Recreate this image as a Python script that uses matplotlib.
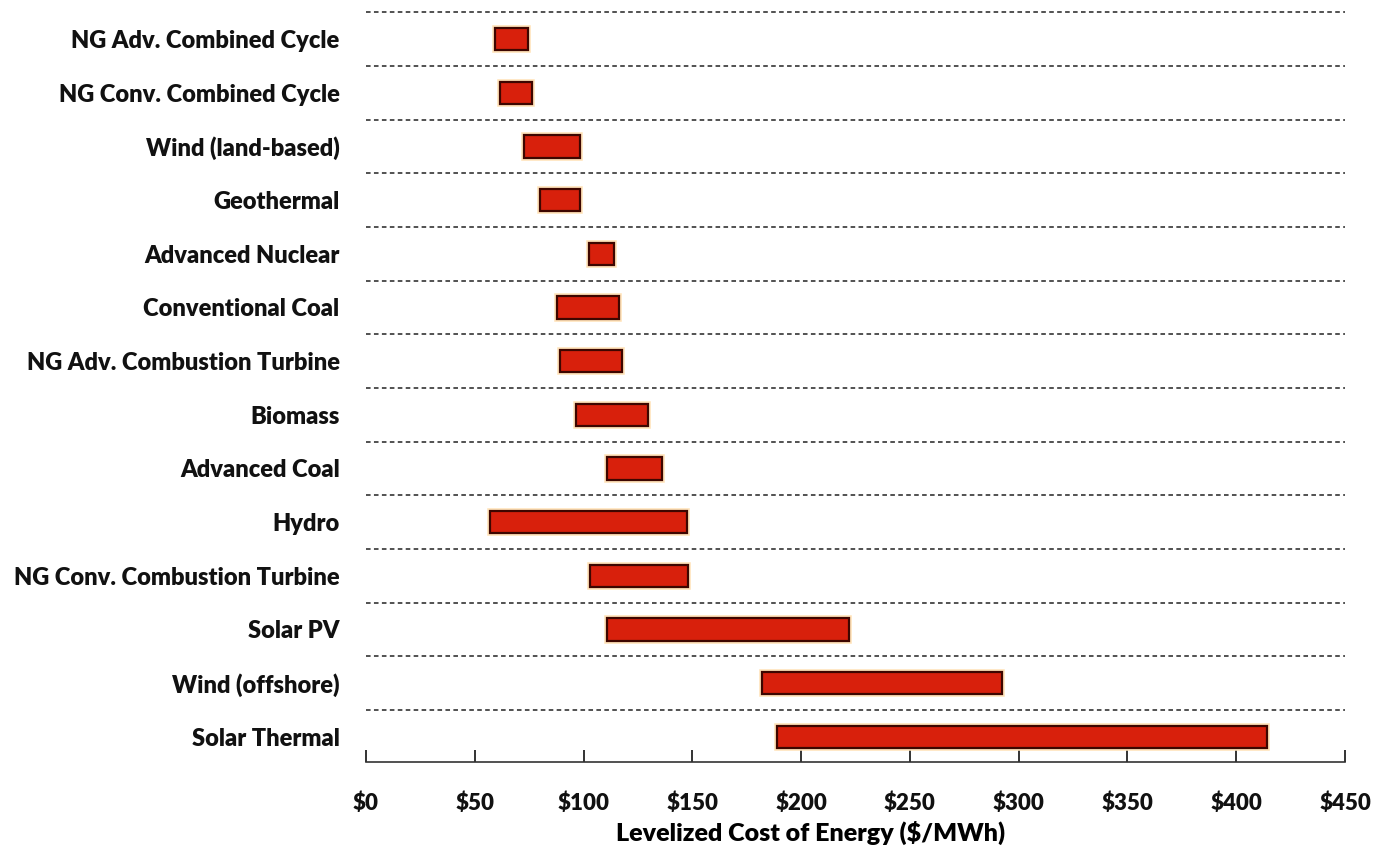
"""Levelized cost of energy ranges by technology (floating bar chart)."""
import matplotlib as mpl; mpl.use("Agg")
import matplotlib.pyplot as plt
from matplotlib.ticker import FuncFormatter

plt.rcParams.update({"font.family": ["Lato", "DejaVu Sans"], "font.weight": "heavy"})

techs = ["NG Adv. Combined Cycle", "NG Conv. Combined Cycle", "Wind (land-based)", "Geothermal",
         "Advanced Nuclear", "Conventional Coal", "NG Adv. Combustion Turbine", "Biomass",
         "Advanced Coal", "Hydro", "NG Conv. Combustion Turbine", "Solar PV", "Wind (offshore)",
         "Solar Thermal"]
low = [59.5, 61.5, 72.5, 80, 102.5, 88, 89, 96.5, 111, 57, 103, 111, 182, 189]
high = [74.5, 76.5, 98.5, 98.5, 114, 116.5, 117.5, 129.5, 136, 147.5, 148, 222, 292.5, 414]
xticks = list(range(0, 451, 50))

fig = plt.figure(figsize=(13.77, 8.52), dpi=100)
ax = fig.add_axes([366/1377, 1-762/852, (1345-366)/1377, 762/852])
y = list(range(len(techs)))
w = [h - l for l, h in zip(low, high)]
ax.barh(y, w, left=low, height=0.42, color="none", edgecolor="#ffe2b8", lw=4, zorder=2)
ax.barh(y, w, left=low, height=0.42, color="#d8200c", edgecolor="#3d0600", lw=1.6, zorder=3)
for k in range(len(techs)):
    ax.axhline(k - 0.5, color="#222222", lw=1.1, ls=(0, (3, 2.2)), zorder=1)

ax.set_xlim(0, 450); ax.set_ylim(13.47, -0.73)
ax.set_xticks(xticks)
ax.xaxis.set_major_formatter(FuncFormatter(lambda v, p: f"${v:.0f}"))
ax.set_yticks(y); ax.set_yticklabels(techs)
ax.tick_params(axis="y", length=0, pad=19, labelsize=17, colors="#111111")
ax.tick_params(axis="x", direction="in", length=9, width=1.2, pad=22, labelsize=16, colors="#111111")
for s in ["top", "right", "left"]:
    ax.spines[s].set_visible(False)
ax.spines["bottom"].set_linewidth(1.2); ax.spines["bottom"].set_color("#333333")
ax.set_xlabel("Levelized Cost of Energy ($/MWh)", fontsize=18, fontweight="heavy")
ax.xaxis.set_label_coords((811 - 366) / (1345 - 366), -(833 - 762) / 762)
ax.xaxis.label.set_va("center")
fig.savefig("out.png", dpi=100)
